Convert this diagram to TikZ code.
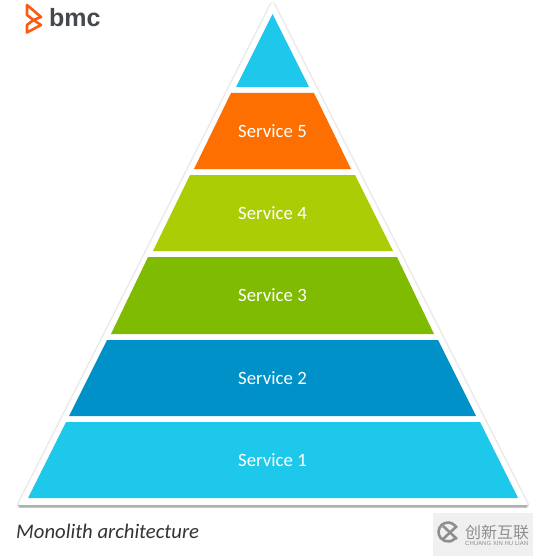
\documentclass[tikz,border=0pt]{standalone}
\usepackage{fontspec}
\setmainfont{Carlito}
\newfontfamily\cjkfont{Noto Sans CJK SC}
\newfontfamily\logofont{Liberation Sans}
\usetikzlibrary{calc}
\definecolor{svcsky}{HTML}{1EC8EA}
\definecolor{svcblue}{HTML}{0091C9}
\definecolor{svcgreen}{HTML}{7FBB00}
\definecolor{svclime}{HTML}{ABCD05}
\definecolor{svcorange}{HTML}{FC6F00}
\definecolor{bmcorange}{HTML}{FA5A14}
\definecolor{bmcgrey}{HTML}{45494D}
\definecolor{wmgrey}{HTML}{8E8E8E}
\tikzset{
  svclabel/.style={text=white,font=\fontsize{18.8}{20}\selectfont,inner sep=0pt},
}
\def\outline{(272.5,3.5) -- (526.5,504) -- (19.5,504) -- cycle}
\begin{document}
\begin{tikzpicture}[x=1pt,y=-1pt]
\useasboundingbox (0,0) rectangle (533,556);
% soft shadow behind the white backing
\foreach \w/\s in {6/1,4.5/1.5,3/2,2/2.5,1/3}
  \draw[black,opacity=0.06,line width=\w pt,line join=round,fill,yshift=-\s pt] \outline;
\fill[white,draw=white,line width=2pt,line join=round] \outline;
% layers
\fill[svcsky] (272.5,14) -- (309,87) -- (236,87) -- cycle;
\fill[svcorange] (231,93) -- (314,93) -- (351,169) -- (194,169) -- cycle;
\fill[svclime] (190,175) -- (355,175) -- (393,251) -- (153,251) -- cycle;
\fill[svcgreen] (148,257) -- (397,257) -- (434,334) -- (111,334) -- cycle;
\fill[svcblue] (107,340) -- (438,340) -- (476,416) -- (69,416) -- cycle;
\fill[svcsky] (66,422) -- (480,422) -- (518,498) -- (28,498) -- cycle;
\node[svclabel] (s5) at (272.5,131) {Service 5};
\node[svclabel] (s4) at (272.5,213) {Service 4};
\node[svclabel] (s3) at (272.5,295) {Service 3};
\node[svclabel] (s2) at (272.5,378) {Service 2};
\node[svclabel] (s1) at (272.5,460) {Service 1};
\node[anchor=west,inner sep=0pt,text=black!80,font=\fontsize{20.7}{22}\selectfont\itshape] (caption) at (16,531) {Monolith architecture};
% logo
\draw[bmcorange,line width=2.6pt,line join=round]
  (27,5) -- (41,17) -- (33.5,20) -- (41,25) -- (27,32.5) -- (27,25) -- (33.5,20) -- (27,15) -- cycle;
\node[anchor=west,inner sep=0pt,text=bmcgrey,font=\logofont\bfseries\fontsize{25}{25}\selectfont] (bmc) at (49,18) {bmc};
% watermark
\fill[black!6] (433,513) rectangle (533,556);
\draw[wmgrey,line width=2.6pt] (455.3,525.9) arc (320:40:9.5);
\draw[wmgrey,line width=2.6pt] (443,526) -- (457,539) (457,526) -- (443,539);
\node[anchor=west,inner sep=0pt,text=wmgrey,font=\cjkfont\fontsize{16}{16}\selectfont] (wmcn) at (465,532.5) {创新互联};
\node[anchor=west,inner sep=0pt,text=wmgrey,font=\logofont\fontsize{6}{6}\selectfont] (wmen) at (465,543) {CHUANG XIN HU LIAN};
\end{tikzpicture}
\end{document}
